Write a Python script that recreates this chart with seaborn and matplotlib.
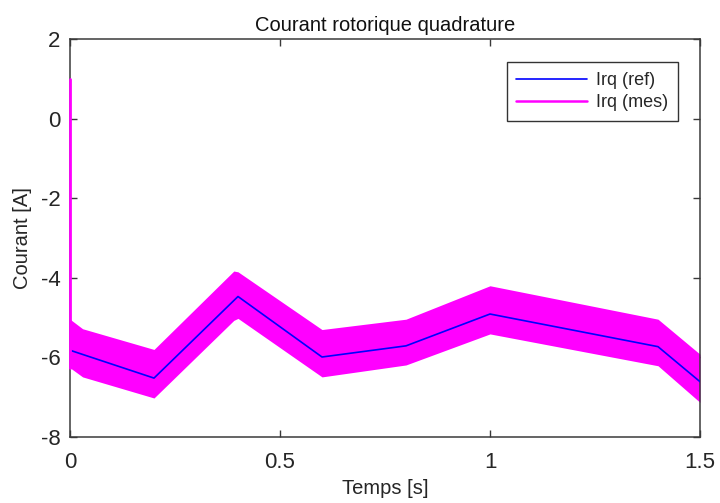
import numpy as np
import pandas as pd
import matplotlib
matplotlib.use("Agg")
import matplotlib.pyplot as plt
import seaborn as sns
from matplotlib.lines import Line2D

# reference current (breakpoints)
t_ref = [0.0, 0.2, 0.4, 0.6, 0.8, 1.0, 1.4, 1.5]
irq_ref = [-5.82, -6.52, -4.47, -5.99, -5.71, -4.91, -5.73, -6.61]

# measured current: envelope of the fast oscillation
t_mes = [0.0, 0.03, 0.2, 0.39, 0.4, 0.6, 0.8, 1.0, 1.4, 1.5]
irq_mes_upper = [-5.04, -5.28, -5.80, -3.83, -3.85, -5.30, -5.04, -4.20, -5.04, -5.92]
irq_mes_lower = [-6.26, -6.49, -7.02, -5.07, -5.02, -6.49, -6.19, -5.41, -6.21, -7.13]
# initial transient at t = 0
spike_t = [0.0, 0.0]
spike_val = [1.0, -6.26]

x_ticks = [0, 0.5, 1, 1.5]
x_tick_labels = ["0", "0.5", "1", "1.5"]
y_ticks = [-8, -6, -4, -2, 0, 2]
y_tick_labels = ["-8", "-6", "-4", "-2", "0", "2"]

sns.set_theme(style="white")
plt.rcParams['font.family'] = ['Liberation Sans', 'DejaVu Sans']

fig = plt.figure(figsize=(7.2, 5.03), dpi=100)
ax = fig.add_axes([70 / 720, 1 - 437 / 503, 630 / 720, 398 / 503])

ref_df = pd.DataFrame({"t": t_ref, "irq": irq_ref})
mes_df = pd.DataFrame({"t": t_mes, "up": irq_mes_upper, "lo": irq_mes_lower})

ax.fill_between(mes_df["t"], mes_df["lo"], mes_df["up"], color="#ff00ff",
                linewidth=0, zorder=2)
ax.plot(spike_t, spike_val, color="#ff00ff", lw=2.0, zorder=5, clip_on=False)
sns.lineplot(data=ref_df, x="t", y="irq", ax=ax, color="#0000ff", lw=1.2,
             zorder=3, legend=False)

ax.set_xlim(0, 1.5)
ax.set_ylim(-8, 2)
ax.set_xticks(x_ticks)
ax.set_xticklabels(x_tick_labels)
ax.set_yticks(y_ticks)
ax.set_yticklabels(y_tick_labels)

spine_col = "#3a3a3a"
for s in ax.spines.values():
    s.set_visible(True)
    s.set_color(spine_col)
    s.set_linewidth(1.1)
ax.tick_params(direction="in", length=5, width=1.0, color=spine_col,
               labelsize=16, labelcolor="#262626", top=True, right=True,
               bottom=True, left=True)
ax.tick_params(axis="x", pad=11)
ax.tick_params(axis="y", pad=7)

ax.set_title("Courant rotorique quadrature", fontsize=14.5, color="#111111", pad=6)
ax.set_xlabel("Temps [s]", fontsize=14.5, color="#262626", labelpad=4)
ax.set_ylabel("Courant [A]", fontsize=14.5, color="#262626", labelpad=6)

handles = [Line2D([], [], color="#0000ff", lw=1.2),
           Line2D([], [], color="#ff00ff", lw=1.8)]
leg = ax.legend(handles, ["Irq (ref)", "Irq (mes)"], loc="upper right",
                bbox_to_anchor=(0.965, 0.942), fontsize=13, handlelength=3.9,
                fancybox=False, framealpha=1, edgecolor="#333333",
                borderpad=0.55, labelspacing=0.3, handletextpad=0.5,
                borderaxespad=0)
leg.get_frame().set_linewidth(1.0)

fig.savefig("out.png", dpi=100)
